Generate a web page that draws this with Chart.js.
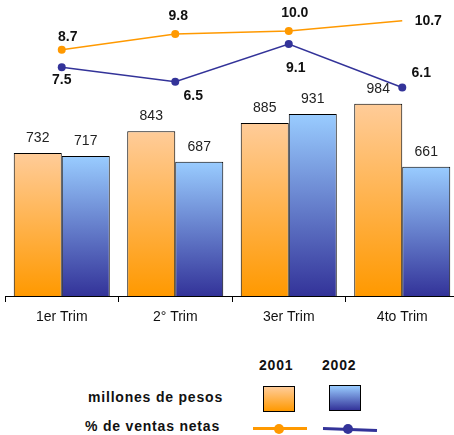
<!DOCTYPE html>
<html>
<head>
<meta charset="utf-8">
<script src="https://cdn.jsdelivr.net/npm/chart.js@4"></script>
<style>
  body { margin: 0; background: #fff; font-family: "Liberation Sans", Arial, sans-serif; overflow: hidden; }
  #wrap { position: relative; width: 454px; height: 435px; overflow: hidden; }
  #myChart { position: absolute; left: 0; top: 0; }
  .lg { position: absolute; font-weight: bold; font-size: 14px; color: #111; letter-spacing: 0.8px; white-space: nowrap; }
  .sw { position: absolute; width: 30px; height: 24px; border: 1px solid #000; }
  .ln { position: absolute; height: 3px; width: 54px; }
  .dot { position: absolute; width: 10px; height: 10px; border-radius: 50%; }
</style>
</head>
<body>
<div id="wrap">
  <canvas id="myChart" width="460" height="330"></canvas>

  <div class="lg" style="left:259px; top:357px;">2001</div>
  <div class="lg" style="left:322px; top:357px;">2002</div>
  <div class="lg" style="left:88px; top:389px;">millones de pesos</div>
  <div class="lg" style="left:85px; top:418px;">% de ventas netas</div>

  <div class="sw" style="left:263px; top:386px; background: linear-gradient(#ffcc99, #ff9900);"></div>
  <div class="sw" style="left:329px; top:385px; background: linear-gradient(#99ccff, #333399);"></div>

  <div class="ln" style="left:253px; top:427px; background:#ff9900;"></div>
  <div class="dot" style="left:274px; top:424px; background:#ff9900;"></div>
  <div class="ln" style="left:323px; top:428px; background:#333399; transform: rotate(2deg);"></div>
  <div class="dot" style="left:343px; top:424px; background:#333399;"></div>
</div>

<script>
'use strict';

let categories = ['1er Trim', '2° Trim', '3er Trim', '4to Trim'];
let ventas2001 = [732, 843, 885, 984];
let ventas2002 = [717, 687, 931, 661];
let pct2001 = [8.7, 9.8, 10.0, 10.7];
let pct2002 = [7.5, 6.5, 9.1, 6.1];

// label offsets for the line values (dx, dy from the point)
let offs2001 = [[6, -13], [3, -18], [6, -18], [26, 0]];
let offs2002 = [[0, 13], [18, 14], [7, 24], [19, -14]];

function barGradient(topColor, bottomColor){
    return function(context){
        let chart = context.chart;
        if(!chart.chartArea || !context.parsed){
            return topColor;
        }
        let ys = chart.scales.y;
        let y0 = ys.getPixelForValue(context.parsed.y);
        let y1 = ys.getPixelForValue(0);
        let g = chart.ctx.createLinearGradient(0, y0, 0, y1);
        g.addColorStop(0, topColor);
        g.addColorStop(1, bottomColor);
        return g;
    };
}

let valueLabels = {
    id: 'valueLabels',
    afterDatasetsDraw(chart){
        let ctx = chart.ctx;
        ctx.save();
        ctx.textAlign = 'center';
        ctx.textBaseline = 'middle';
        chart.data.datasets.forEach(function(ds, i){
            let meta = chart.getDatasetMeta(i);
            meta.data.forEach(function(el, j){
                let v = ds.data[j];
                if(ds.type === 'line'){
                    ctx.font = 'bold 14px "Liberation Sans", Arial, sans-serif';
                    ctx.fillStyle = '#111';
                    let o = ds.labelOffsets[j];
                    ctx.fillText(v.toFixed(1), el.x + o[0], el.y + o[1]);
                }else{
                    ctx.font = '14px "Liberation Sans", Arial, sans-serif';
                    ctx.fillStyle = '#222';
                    ctx.fillText(String(v), el.x, el.y - 15);
                }
            });
        });
        ctx.restore();
    }
};

let ctx = document.getElementById('myChart').getContext('2d');
let chart = new Chart(ctx, {
    data: {
        labels: categories,
        datasets: [{
            type: 'line',
            label: '% 2001',
            data: pct2001,
            yAxisID: 'y2',
            borderColor: '#ff9900',
            backgroundColor: '#ff9900',
            borderWidth: 1.5,
            pointRadius: [4, 4, 4, 0],
            pointBorderWidth: 0,
            tension: 0,
            order: 1,
            labelOffsets: offs2001
        },{
            type: 'line',
            label: '% 2002',
            data: pct2002,
            yAxisID: 'y2',
            borderColor: '#333399',
            backgroundColor: '#333399',
            borderWidth: 1.5,
            pointRadius: 4,
            pointBorderWidth: 0,
            tension: 0,
            order: 1,
            labelOffsets: offs2002
        },{
            type: 'bar',
            label: '2001',
            data: ventas2001,
            yAxisID: 'y',
            backgroundColor: barGradient('#ffcc99', '#ff9900'),
            borderColor: '#000',
            borderWidth: 1,
            borderSkipped: 'bottom',
            categoryPercentage: 0.846,
            barPercentage: 1,
            order: 2
        },{
            type: 'bar',
            label: '2002',
            data: ventas2002,
            yAxisID: 'y',
            backgroundColor: barGradient('#99ccff', '#333399'),
            borderColor: '#000',
            borderWidth: 1,
            borderSkipped: 'bottom',
            categoryPercentage: 0.846,
            barPercentage: 1,
            order: 2
        }]
    },
    options: {
        responsive: false,
        animation: false,
        layout: { autoPadding: false, padding: { left: 5, right: 1, top: 10, bottom: 0 } },
        plugins: {
            legend: { display: false },
            tooltip: { enabled: false }
        },
        scales: {
            x: {
                offset: true,
                grid: { display: true, drawOnChartArea: false, drawTicks: true, tickLength: 6, color: '#000', offset: true },
                border: { display: true, color: '#000', width: 1 },
                ticks: { color: '#111', padding: 7, font: { size: 14, family: '"Liberation Sans", Arial, sans-serif' } },
                afterFit: function(scale){ scale.height = 34; }
            },
            y: { display: false, min: 0, max: 1464 },
            y2: { display: false, min: -8.28, max: 11.45 }
        }
    },
    plugins: [valueLabels]
});
</script>
</body>
</html>
